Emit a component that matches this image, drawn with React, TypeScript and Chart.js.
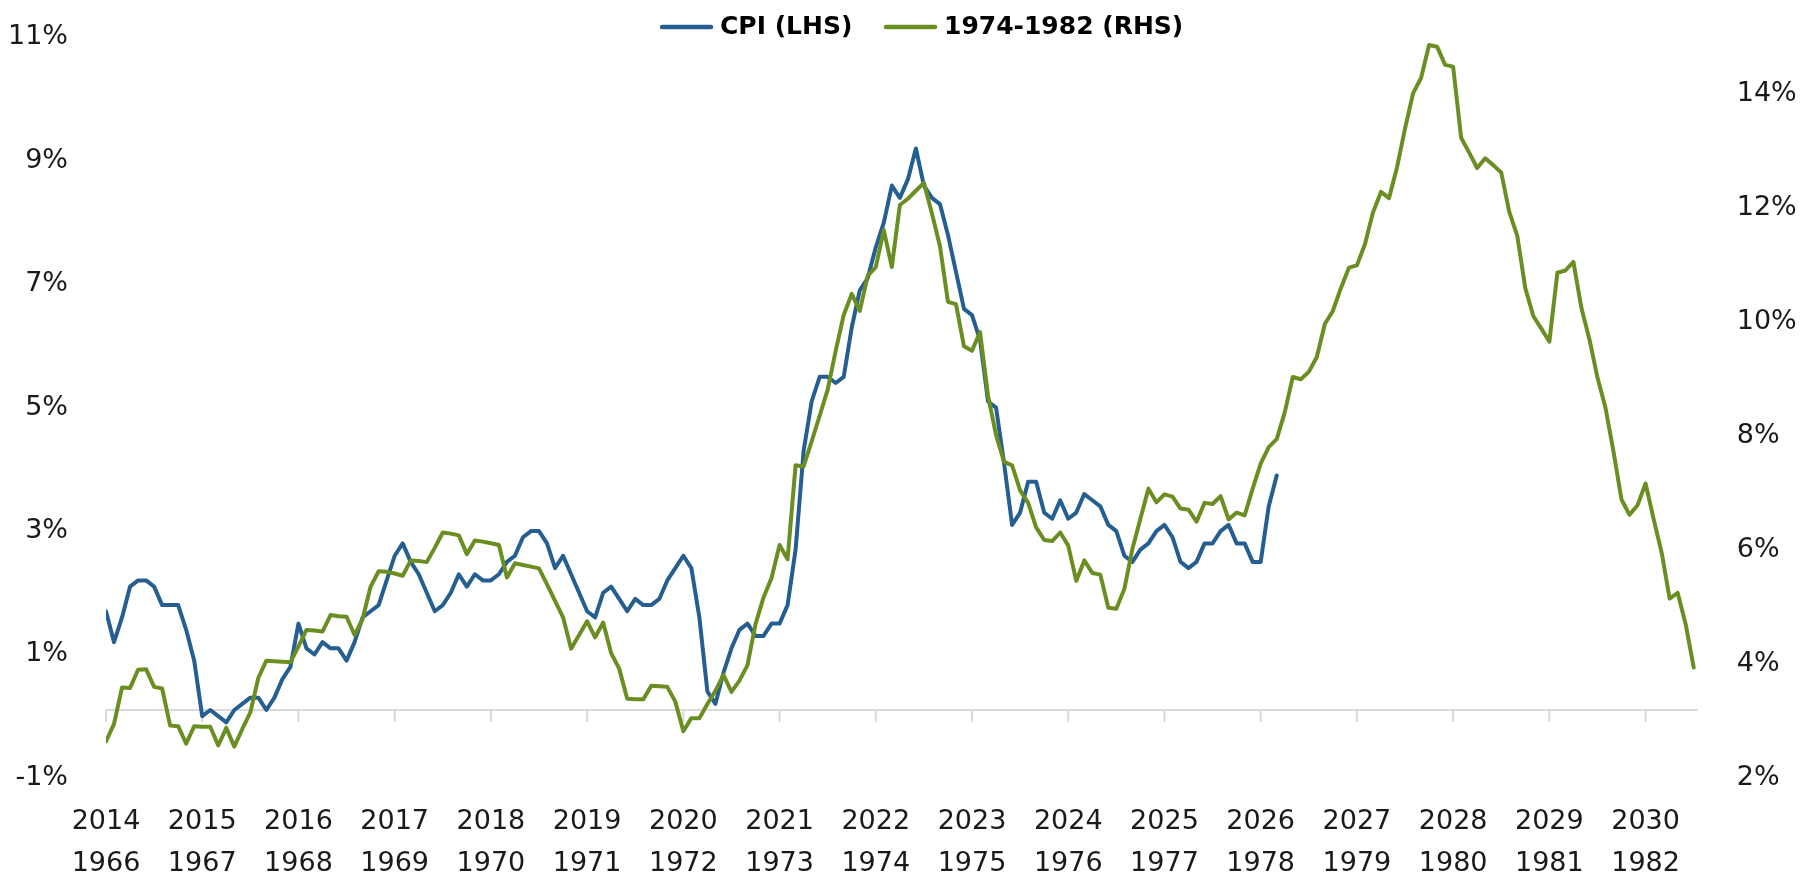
import React, { useEffect, useRef } from 'react';
import { Chart, registerables } from 'chart.js';

Chart.register(...registerables);

// ---- Data ----
const topYears = ['2014', '2015', '2016', '2017', '2018', '2019', '2020', '2021', '2022', '2023', '2024', '2025', '2026', '2027', '2028', '2029', '2030'];
const bottomYears = ['1966', '1967', '1968', '1969', '1970', '1971', '1972', '1973', '1974', '1975', '1976', '1977', '1978', '1979', '1980', '1981', '1982'];
const seriesNames = ['CPI (LHS)', '1974-1982 (RHS)'];
const leftTicks = [-1, 1, 3, 5, 7, 9, 11];
const rightTicks = [2, 4, 6, 8, 10, 12, 14];

// CPI YoY %, monthly from Jan 2014
const cpi = [
  1.6, 1.1, 1.5, 2.0, 2.1, 2.1, 2.0, 1.7, 1.7, 1.7, 1.3, 0.8,
  -0.1, 0.0, -0.1, -0.2, 0.0, 0.1, 0.2, 0.2, 0.0, 0.2, 0.5, 0.7,
  1.4, 1.0, 0.9, 1.1, 1.0, 1.0, 0.8, 1.1, 1.5, 1.6, 1.7, 2.1,
  2.5, 2.7, 2.4, 2.2, 1.9, 1.6, 1.7, 1.9, 2.2, 2.0, 2.2, 2.1,
  2.1, 2.2, 2.4, 2.5, 2.8, 2.9, 2.9, 2.7, 2.3, 2.5, 2.2, 1.9,
  1.6, 1.5, 1.9, 2.0, 1.8, 1.6, 1.8, 1.7, 1.7, 1.8, 2.1, 2.3,
  2.5, 2.3, 1.5, 0.3, 0.1, 0.6, 1.0, 1.3, 1.4, 1.2, 1.2, 1.4,
  1.4, 1.7, 2.6, 4.2, 5.0, 5.4, 5.4, 5.3, 5.4, 6.2, 6.8, 7.0,
  7.5, 7.9, 8.5, 8.3, 8.6, 9.1, 8.5, 8.3, 8.2, 7.7, 7.1, 6.5,
  6.4, 6.0, 5.0, 4.9, 4.0, 3.0, 3.2, 3.7, 3.7, 3.2, 3.1, 3.4,
  3.1, 3.2, 3.5, 3.4, 3.3, 3.0, 2.9, 2.5, 2.4, 2.6, 2.7, 2.9,
  3.0, 2.8, 2.4, 2.3, 2.4, 2.7, 2.7, 2.9, 3.0, 2.7, 2.7, 2.4,
  2.4, 3.3, 3.8,
];

// Historical CPI YoY %, monthly, plotted from the same first month
const hist = [
  2.53, 2.84, 3.48, 3.47, 3.79, 3.80, 3.49,
  3.46, 2.81, 2.80, 2.49, 2.80, 2.79, 2.79, 2.46, 2.77, 2.44, 2.75, 3.04,
  3.65, 3.95, 3.94, 3.93, 3.92, 4.20, 4.49, 4.48, 4.46, 4.75, 4.73, 4.72,
  4.40, 4.68, 5.25, 5.52, 5.51, 5.48, 5.44, 5.71, 5.70, 5.68, 5.93, 6.20,
  6.18, 6.15, 5.82, 6.06, 6.04, 6.01, 5.98, 5.41, 5.66, 5.63, 5.60, 5.57,
  5.29, 5.00, 4.71, 4.16, 4.40, 4.64, 4.36, 4.62, 4.08, 3.81, 3.28, 3.27,
  3.27, 3.51, 3.50, 3.49, 3.23, 2.71, 2.94, 2.94, 3.19, 3.42, 3.70, 3.40,
  3.60, 3.87, 4.59, 5.06, 5.40, 5.98, 5.73, 7.38, 7.36, 7.80, 8.25, 8.71,
  9.39, 10.02, 10.39, 10.09, 10.71, 10.86, 11.51, 10.86, 11.95, 12.06, 12.20, 12.34,
  11.80, 11.23, 10.25, 10.21, 9.47, 9.39, 9.72, 8.60, 7.91, 7.44, 7.38, 6.94,
  6.72, 6.29, 6.07, 6.05, 6.20, 5.97, 5.35, 5.71, 5.49, 5.46, 4.88, 4.86,
  5.21, 5.91, 6.44, 6.97, 6.73, 6.87, 6.83, 6.62, 6.60, 6.39, 6.72, 6.70,
  6.84, 6.43, 6.55, 6.50, 6.97, 7.41, 7.70, 7.84, 8.31, 8.93, 8.89, 9.02,
  9.28, 9.86, 10.09, 10.49, 10.85, 10.89, 11.26, 11.82, 12.18, 12.07, 12.61, 13.29,
  13.91, 14.18, 14.76, 14.73, 14.41, 14.38, 13.13, 12.87, 12.60, 12.77, 12.65, 12.52,
  11.83, 11.41, 10.49, 10.00, 9.78, 9.55, 10.76, 10.80, 10.95, 10.14, 9.59, 8.92,
  8.39, 7.62, 6.78, 6.51, 6.68, 7.06, 6.44, 5.85, 5.04, 5.14, 4.59, 3.83,
];

// ---- Styles ----
const BLUE = '#255E91';
const GREEN = '#6B8E23';
const AXIS_GREY = '#d9d9d9';
const TEXT = '#1a1a1a';
const FONT = "'DejaVu Sans'";

export default function App() {
  const ref = useRef<HTMLCanvasElement | null>(null);

  useEffect(() => {
    if (!ref.current) return;

    const zeroLine = {
      id: 'zeroLine',
      beforeDatasetsDraw(chart: any) {
        const { ctx, chartArea: a, scales } = chart;
        const y0 = scales.y.getPixelForValue(0);
        ctx.save();
        ctx.strokeStyle = AXIS_GREY;
        ctx.lineWidth = 2;
        ctx.beginPath();
        ctx.moveTo(a.left, y0);
        ctx.lineTo(a.right, y0);
        scales.x.ticks.forEach((t: any) => {
          const x = scales.x.getPixelForValue(t.value);
          ctx.moveTo(x, y0);
          ctx.lineTo(x, y0 + 12);
        });
        ctx.stroke();
        ctx.restore();
      },
    };

    const topLegend = {
      id: 'topLegend',
      afterDraw(chart: any) {
        const { ctx } = chart;
        const colors = [BLUE, GREEN];
        const starts = [660, 884];
        const y = 27;
        ctx.save();
        ctx.font = `bold 25px ${FONT}`;
        ctx.textBaseline = 'middle';
        ctx.textAlign = 'left';
        seriesNames.forEach((name, i) => {
          const x = starts[i];
          ctx.strokeStyle = colors[i];
          ctx.lineWidth = 4.5;
          ctx.lineCap = 'round';
          ctx.beginPath();
          ctx.moveTo(x + 2, y);
          ctx.lineTo(x + 51, y);
          ctx.stroke();
          ctx.fillStyle = '#000';
          ctx.fillText(name, x + 60, y);
        });
        ctx.restore();
      },
    };

    const yAfterFit = (w: number) => (s: any) => {
      s.width = w;
      s.paddingTop = 0;
      s.paddingBottom = 0;
    };

    const chart = new Chart(ref.current, {
      type: 'line',
      data: {
        datasets: [
          {
            label: seriesNames[0],
            data: cpi.map((v, i) => ({ x: i, y: v })),
            borderColor: BLUE,
            backgroundColor: BLUE,
            borderWidth: 4,
            pointRadius: 0,
            tension: 0,
            borderJoinStyle: 'round',
            borderCapStyle: 'round',
            yAxisID: 'y',
            order: 1,
          },
          {
            label: seriesNames[1],
            data: hist.map((v, i) => ({ x: i, y: v })),
            borderColor: GREEN,
            backgroundColor: GREEN,
            borderWidth: 4,
            pointRadius: 0,
            tension: 0,
            borderJoinStyle: 'round',
            borderCapStyle: 'round',
            yAxisID: 'y1',
            order: 0,
          },
        ],
      },
      options: {
        animation: false,
        responsive: true,
        maintainAspectRatio: false,
        layout: { padding: { top: 31.3, left: 0, right: 0, bottom: 0 } },
        plugins: {
          legend: { display: false },
          tooltip: { enabled: false },
          title: { display: false },
        },
        scales: {
          x: {
            type: 'linear',
            min: 0,
            max: 198.5,
            grid: { display: false },
            border: { display: false },
            afterBuildTicks: (s: any) => {
              s.ticks = topYears.map((_, k) => ({ value: k * 12 }));
            },
            afterFit: (s: any) => {
              s.height = 106.3;
              s.paddingLeft = 0;
              s.paddingRight = 0;
            },
            ticks: {
              autoSkip: false,
              maxRotation: 0,
              minRotation: 0,
              padding: 21,
              color: TEXT,
              font: { family: FONT, size: 27, lineHeight: 1.57 },
              callback: (_v: any, i: number) => [topYears[i], bottomYears[i]],
            },
          },
          y: {
            position: 'left',
            min: -1,
            max: 11,
            grid: { display: false, drawTicks: false },
            border: { display: false },
            afterBuildTicks: (s: any) => {
              s.ticks = leftTicks.map((v) => ({ value: v }));
            },
            afterFit: yAfterFit(106),
            ticks: {
              padding: 38,
              labelOffset: 6,
              color: TEXT,
              font: { family: FONT, size: 27 },
              callback: (v: any) => `${v}%`,
            },
          },
          y1: {
            position: 'right',
            min: 2,
            max: 15,
            grid: { display: false, drawTicks: false },
            border: { display: false },
            afterBuildTicks: (s: any) => {
              s.ticks = rightTicks.map((v) => ({ value: v }));
            },
            afterFit: yAfterFit(103.3),
            ticks: {
              padding: 39,
              labelOffset: 6,
              color: TEXT,
              font: { family: FONT, size: 27 },
              callback: (v: any) => `${v}%`,
            },
          },
        },
      },
      plugins: [zeroLine, topLegend],
    } as any);

    return () => chart.destroy();
  }, []);

  return (
    <div
      style={{
        position: 'fixed',
        left: 0,
        top: 0,
        width: 1801,
        height: 878,
        background: '#ffffff',
      }}
    >
      <canvas ref={ref} />
    </div>
  );
}
